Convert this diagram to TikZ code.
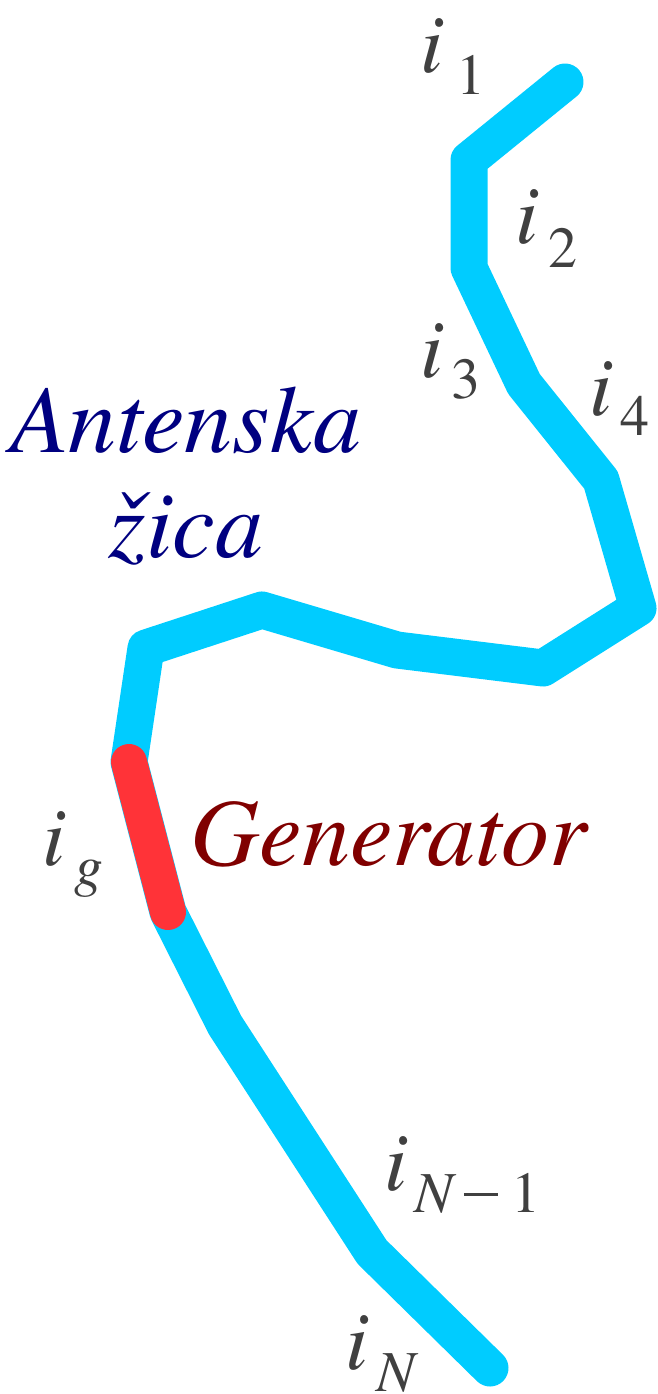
\documentclass[tikz,border=0pt]{standalone}
\usepackage{fontspec}
\IfFontExistsTF{texgyretermes-italic.otf}{%
  \setmainfont{texgyretermes-regular.otf}[ItalicFont=texgyretermes-italic.otf,BoldFont=texgyretermes-bold.otf]%
}{%
  \setmainfont{DejaVu Serif}%
}
\definecolor{wireblue}{RGB}{0,204,255}
\definecolor{genred}{RGB}{255,51,56}
\definecolor{labgray}{RGB}{64,64,64}
\definecolor{navytext}{RGB}{0,0,128}
\definecolor{maroontext}{RGB}{128,0,0}
\newcommand{\longminus}{\hspace{11pt}\rule[16.5pt]{34pt}{3pt}\hspace{14pt}}
\begin{document}
\begin{tikzpicture}[x=1pt,y=-1pt,
  wire/.style={line width=37pt, color=wireblue, line cap=round, line join=round},
  gen/.style={line width=36pt, color=genred, line cap=round},
  ilab/.style={inner sep=0pt, anchor=base west, text=labgray, font=\fontsize{84}{84}\selectfont\itshape},
  sublab/.style={inner sep=0pt, anchor=base west, text=labgray, font=\fontsize{58}{58}\selectfont},
  bigtext/.style={inner sep=0pt, anchor=base, font=\fontsize{96}{96}\selectfont\itshape}]
\useasboundingbox (0,0) rectangle (658,1394);
\coordinate (p0) at (565,82);
\coordinate (p1) at (469,160);
\coordinate (p2) at (469,268);
\coordinate (p3) at (524,384);
\coordinate (p4) at (601,480);
\coordinate (p5) at (638,608);
\coordinate (p6) at (543,668);
\coordinate (p7) at (397,650);
\coordinate (p8) at (262,610);
\coordinate (p9) at (146,648);
\coordinate (p10) at (129,762);
\coordinate (p11) at (168,912);
\coordinate (p12) at (225,1025);
\coordinate (p13) at (372,1252);
\coordinate (p14) at (490,1368);
\draw[wire] (p0) -- (p1) -- (p2) -- (p3) -- (p4) -- (p5) -- (p6) -- (p7) -- (p8) -- (p9) -- (p10) -- (p11) -- (p12) -- (p13) -- (p14);
\draw[gen] (p10) -- (p11);
% labels
\node[ilab] (i1) at (420,73) {i};
\node[sublab] (s1) at (456,95) {1};
\node[ilab] (i2) at (515,243) {i};
\node[sublab] (s2) at (548,267) {2};
\node[ilab] (i3) at (420,377) {i};
\node[sublab] (s3) at (451,398) {3};
\node[ilab] (i4) at (589,415) {i};
\node[sublab] (s4) at (620,435) {4};
\node[ilab] (ig) at (42,865) {i};
\node[sublab] (sg) at (74,885) {\itshape g};
\node[ilab] (iN1) at (384,1190) {i};
\node[sublab] (sN1) at (414,1212) {\itshape N\upshape\longminus 1};
\node[ilab] (iN) at (345,1369) {i};
\node[sublab] (sN) at (376,1391) {\itshape N};
\node[bigtext, text=navytext] (ant) at (186,452) {Antenska};
\node[bigtext, text=navytext] (zica) at (186,557) {žica};
\node[bigtext, text=maroontext, anchor=base west] (gentext) at (190,865) {Generator};
\end{tikzpicture}
\end{document}
